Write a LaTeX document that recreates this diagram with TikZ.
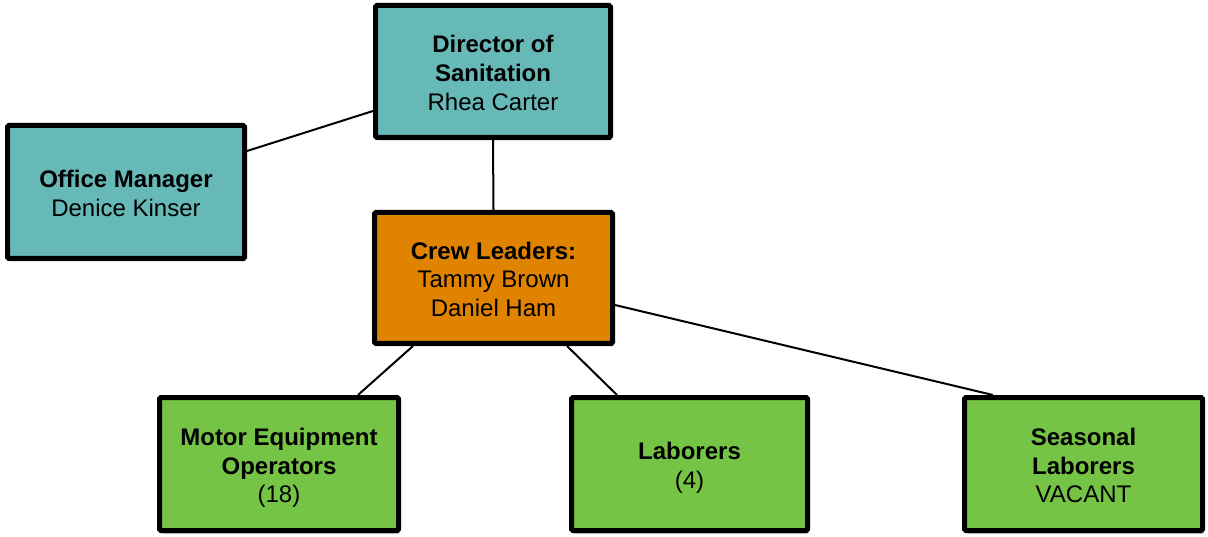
\documentclass[tikz,border=0pt]{standalone}
\usepackage{fontspec}
\setmainfont{Liberation Sans}
\usetikzlibrary{shadows,backgrounds}
\definecolor{tealbox}{HTML}{67B9B8}
\definecolor{orangebox}{HTML}{E08300}
\definecolor{greenbox}{HTML}{76C445}
% fixed struts so every text block sits at the same height in its box
\newcommand{\ftop}{\rule{0pt}{26pt}}
\newcommand{\fbot}{\rule[-6pt]{0pt}{6pt}}
\tikzset{
  orgbox/.style={draw=black, line width=5pt, rounded corners=1.5pt,
    align=center, inner sep=0pt,
    minimum width=236pt, minimum height=133pt,
    font=\fontsize{24}{28.8}\selectfont,
    drop shadow={shadow xshift=1.5pt, shadow yshift=-3pt, opacity=0.3, fill=black}},
  link/.style={line width=2pt, black}
}
\begin{document}
\begin{tikzpicture}[x=1pt,y=1pt]
\useasboundingbox (0,0) rectangle (1208,-537);

\node[orgbox, fill=tealbox, minimum width=235pt, minimum height=132pt] (dir) at (493,-71.5)
  {\ftop\textbf{Director of}\\\textbf{Sanitation}\\Rhea Carter\fbot};
\node[orgbox, fill=tealbox, minimum width=237pt] (off) at (126,-192)
  {\ftop\textbf{Office Manager}\\Denice Kinser\fbot};
\node[orgbox, fill=orangebox, minimum width=238pt, minimum height=131pt] (crew) at (493.5,-278)
  {\ftop\textbf{Crew Leaders:}\\Tammy Brown\\Daniel Ham\fbot};
\node[orgbox, fill=greenbox, minimum width=239pt] (motor) at (279,-464)
  {\ftop\textbf{Motor Equipment}\\\textbf{Operators}\\(18)\fbot};
\node[orgbox, fill=greenbox] (lab) at (689.5,-464)
  {\ftop\textbf{Laborers}\\(4)\fbot};
\node[orgbox, fill=greenbox, minimum width=238pt] (seas) at (1083.5,-464)
  {\ftop\textbf{Seasonal}\\\textbf{Laborers}\\VACANT\fbot};

\begin{scope}[on background layer]
  \draw[link] ([yshift=-39.5pt]dir.west) -- ([yshift=41pt]off.east);
  \draw[link] (dir.south) -- (crew.north);
  \draw[link] ([xshift=-80.5pt]crew.south) -- ([xshift=79pt]motor.north);
  \draw[link] ([xshift=73.5pt]crew.south) -- ([xshift=-72.5pt]lab.north);
  \draw[link] ([yshift=-27pt]crew.east) -- ([xshift=-90.5pt]seas.north);
\end{scope}
\end{tikzpicture}
\end{document}
